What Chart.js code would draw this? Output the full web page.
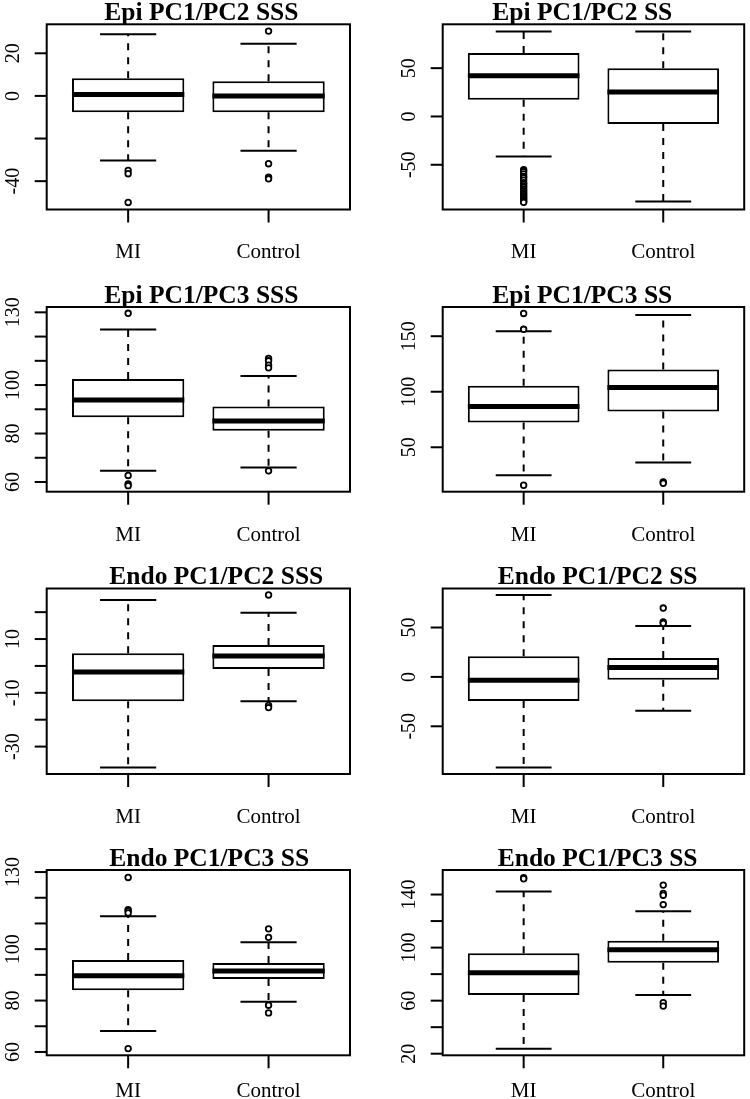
<!DOCTYPE html>
<html>
<head>
<meta charset="utf-8">
<title>Epi / Endo PC boxplots</title>
<script src="https://cdn.jsdelivr.net/npm/chart.js@4.4.1/dist/chart.umd.min.js"></script>
<style>
  html, body { margin: 0; padding: 0; background: #fff; }
  #page { position: relative; width: 750px; height: 1099px; overflow: hidden; background: #fff; }
  #page canvas { position: absolute; }
</style>
</head>
<body>
<div id="page"></div>
<script>
const groups = ["MI", "Control"];

const titles = [
  "Epi PC1/PC2 SSS", "Epi PC1/PC2 SS",
  "Epi PC1/PC3 SSS", "Epi PC1/PC3 SS",
  "Endo PC1/PC2 SSS", "Endo PC1/PC2 SS",
  "Endo PC1/PC3 SS", "Endo PC1/PC3 SS"
];

// one [MI, Control] pair per panel
const lowerWhisker = [[-30.3, -25.7], [-41.4, -87.9], [64.6, 66.0], [24.7, 36.4], [-37.8, -13.1], [-91.6, -34.3], [68.2, 79.5], [23.8, 64.2]];
const quartile1 = [[-7.7, -7.7], [17.3, -7.9], [86.7, 81.1], [72.2, 82.1], [-13.1, -1.1], [-24.5, -3.0], [84.0, 88.4], [64.2, 88.5]];
const medians = [[0.7, 0.0], [42.1, 25.2], [93.8, 85.2], [86.6, 103.9], [-2.3, 3.7], [-3.3, 9.4], [89.7, 91.5], [81.1, 98.3]];
const quartile3 = [[8.3, 6.9], [65.6, 50.0], [102.5, 91.1], [105.4, 120.1], [4.7, 7.8], [20.9, 19.2], [95.8, 94.6], [95.8, 105.1]];
const upperWhisker = [[28.9, 24.5], [87.9, 87.9], [122.9, 103.7], [154.4, 169.0], [24.5, 19.8], [82.8, 51.5], [112.8, 102.7], [142.3, 127.4]];

const outliersMI = [
  [-35.0, -36.5, -50.0],
  [-55.2, -57.0, -59.5, -62.0, -63.5, -66.0, -68.5, -70.0, -72.0, -73.5, -75.5, -77.0, -79.0, -80.5, -82.0, -83.5, -85.0, -86.5, -88.0, -88.9],
  [129.6, 62.7, 59.2, 58.5],
  [170.5, 156.2, 15.8],
  [],
  [],
  [127.9, 115.4, 114.9, 114.1, 61.3],
  [152.7, 151.9]
];
const outliersControl = [
  [30.4, -31.8, -38.1, -38.9],
  [],
  [111.0, 110.0, 108.2, 107.1, 64.6],
  [18.8, 17.6],
  [26.4, -14.7, -15.5],
  [69.7, 55.6, 54.2],
  [107.9, 104.6, 78.2, 75.2],
  [147.1, 140.8, 139.5, 132.4, 58.4, 55.9]
];

const yLimits = [[-53.3, 33.6], [-96.3, 95.4], [56.0, 132.2], [10.0, 176.3], [-40.2, 28.8], [-98.3, 89.5], [58.7, 130.8], [18.8, 158.5]];
const yTicks = [
  [-40, -20, 0, 20],
  [-50, 0, 50],
  [60, 70, 80, 90, 100, 110, 120, 130],
  [50, 100, 150],
  [-30, -20, -10, 0, 10, 20],
  [-50, 0, 50],
  [60, 70, 80, 90, 100, 110, 120, 130],
  [20, 40, 60, 80, 100, 120, 140]
];
// R drops labels that would overlap, so some ticks have none
const yTickLabels = [
  ["-40", "", "0", "20"],
  ["-50", "0", "50"],
  ["60", "", "80", "", "100", "", "", "130"],
  ["50", "100", "150"],
  ["-30", "", "-10", "", "10", ""],
  ["-50", "0", "50"],
  ["60", "", "80", "", "100", "", "", "130"],
  ["20", "", "60", "", "100", "", "140"]
];

// page layout (pixels)
const cellLeft = [0, 375];
const plotLeft = [46.7, 442.7];
const plotRight = [350, 747.3];
const cellTop = [0, 280, 562, 844];
const cellHeight = [280, 282, 282, 255];
const plotTop = [24.3, 307, 588.5, 870];
const plotBottom = [209.5, 491.7, 774, 1055.3];
const labelBaseline = [257.7, 541, 823.3, 1097.3];
const titleLeft = [104.3, 492.3, 104.3, 492.3, 109.3, 497.7, 109.3, 497.7];

const ink = "#000000";
const serif = '"Liberation Serif", "Times New Roman", serif';
const page = document.getElementById("page");

const boxplotPlugin = (p, row, col) => ({
  id: "boxplot",
  beforeDatasetsDraw(chart) {
    const { ctx, scales: { x, y } } = chart;
    const bars = chart.getDatasetMeta(0).data;
    ctx.save();
    ctx.strokeStyle = ink;
    ctx.lineWidth = 2;
    groups.forEach((_, g) => {
      const cx = x.getPixelForValue(g + 1);
      const capHalf = bars[g].width / 4;

      ctx.setLineDash([7, 7]);
      ctx.beginPath();
      ctx.moveTo(cx, y.getPixelForValue(quartile3[p][g]));
      ctx.lineTo(cx, y.getPixelForValue(upperWhisker[p][g]));
      ctx.moveTo(cx, y.getPixelForValue(quartile1[p][g]));
      ctx.lineTo(cx, y.getPixelForValue(lowerWhisker[p][g]));
      ctx.stroke();

      ctx.setLineDash([]);
      ctx.beginPath();
      [upperWhisker, lowerWhisker].forEach((series) => {
        const py = y.getPixelForValue(series[p][g]);
        ctx.moveTo(cx - capHalf, py);
        ctx.lineTo(cx + capHalf, py);
      });
      ctx.stroke();
    });
    ctx.restore();
  },
  afterDatasetsDraw(chart) {
    const { ctx, chartArea: area, scales: { x, y } } = chart;
    const bars = chart.getDatasetMeta(0).data;
    ctx.save();
    ctx.strokeStyle = ink;
    ctx.fillStyle = ink;

    // medians
    ctx.lineWidth = 5;
    groups.forEach((_, g) => {
      const cx = x.getPixelForValue(g + 1);
      const half = bars[g].width / 2;
      const py = y.getPixelForValue(medians[p][g]);
      ctx.beginPath();
      ctx.moveTo(cx - half, py);
      ctx.lineTo(cx + half, py);
      ctx.stroke();
    });

    // frame
    ctx.lineWidth = 2;
    ctx.strokeRect(area.left, area.top, area.right - area.left, area.bottom - area.top);

    // y axis, labels turned like R's las = 0
    ctx.font = `20px ${serif}`;
    y.ticks.forEach((tick, i) => {
      const py = y.getPixelForValue(tick.value);
      ctx.beginPath();
      ctx.moveTo(area.left - 12, py);
      ctx.lineTo(area.left, py);
      ctx.stroke();
      const label = yTickLabels[p][i];
      if (label) {
        ctx.save();
        ctx.translate(area.left - 28, py);
        ctx.rotate(-Math.PI / 2);
        ctx.textAlign = "center";
        ctx.textBaseline = "alphabetic";
        ctx.fillText(label, 0, 0);
        ctx.restore();
      }
    });

    // x axis
    ctx.font = `21px ${serif}`;
    ctx.textAlign = "center";
    ctx.textBaseline = "alphabetic";
    x.ticks.forEach((tick, i) => {
      const px = x.getPixelForValue(tick.value);
      ctx.beginPath();
      ctx.moveTo(px, area.bottom);
      ctx.lineTo(px, area.bottom + 13);
      ctx.stroke();
      ctx.fillText(groups[i], px, labelBaseline[row] - cellTop[row]);
    });

    // title
    ctx.font = `bold 25.5px ${serif}`;
    ctx.textAlign = "left";
    ctx.fillText(titles[p], titleLeft[p] - cellLeft[col], area.top - 4.5);
    ctx.restore();
  }
});

const makePanel = (p) => {
  const row = Math.floor(p / 2);
  const col = p % 2;
  const canvas = document.createElement("canvas");
  canvas.width = 375;
  canvas.height = cellHeight[row];
  canvas.style.left = `${cellLeft[col]}px`;
  canvas.style.top = `${cellTop[row]}px`;
  page.appendChild(canvas);

  const boxes = groups.map((_, g) => ({ x: g + 1, y: [quartile1[p][g], quartile3[p][g]] }));
  const outliers = [
    ...outliersMI[p].map((v) => ({ x: 1, y: v })),
    ...outliersControl[p].map((v) => ({ x: 2, y: v }))
  ];

  return new Chart(canvas, {
    type: "bar",
    data: {
      datasets: [
        {
          type: "bar",
          data: boxes,
          backgroundColor: "#ffffff",
          borderColor: ink,
          borderWidth: 2,
          borderSkipped: false,
          categoryPercentage: 1,
          barPercentage: 0.8
        },
        {
          type: "scatter",
          data: outliers,
          pointRadius: 2.8,
          pointBorderWidth: 1.8,
          pointBackgroundColor: "#ffffff",
          pointBorderColor: ink
        }
      ]
    },
    options: {
      responsive: false,
      animation: false,
      events: [],
      layout: {
        padding: {
          left: plotLeft[col] - cellLeft[col],
          right: cellLeft[col] + 375 - plotRight[col],
          top: plotTop[row] - cellTop[row],
          bottom: cellTop[row] + cellHeight[row] - plotBottom[row]
        }
      },
      plugins: {
        legend: { display: false },
        tooltip: { enabled: false }
      },
      scales: {
        x: {
          type: "linear",
          min: 0.42,
          max: 2.58,
          offset: false,
          display: false,
          afterBuildTicks: (scale) => {
            scale.ticks = groups.map((_, g) => ({ value: g + 1 }));
          }
        },
        y: {
          type: "linear",
          min: yLimits[p][0],
          max: yLimits[p][1],
          display: false,
          afterBuildTicks: (scale) => {
            scale.ticks = yTicks[p].map((v) => ({ value: v }));
          }
        }
      }
    },
    plugins: [boxplotPlugin(p, row, col)]
  });
};

titles.forEach((_, p) => makePanel(p));
</script>
</body>
</html>
